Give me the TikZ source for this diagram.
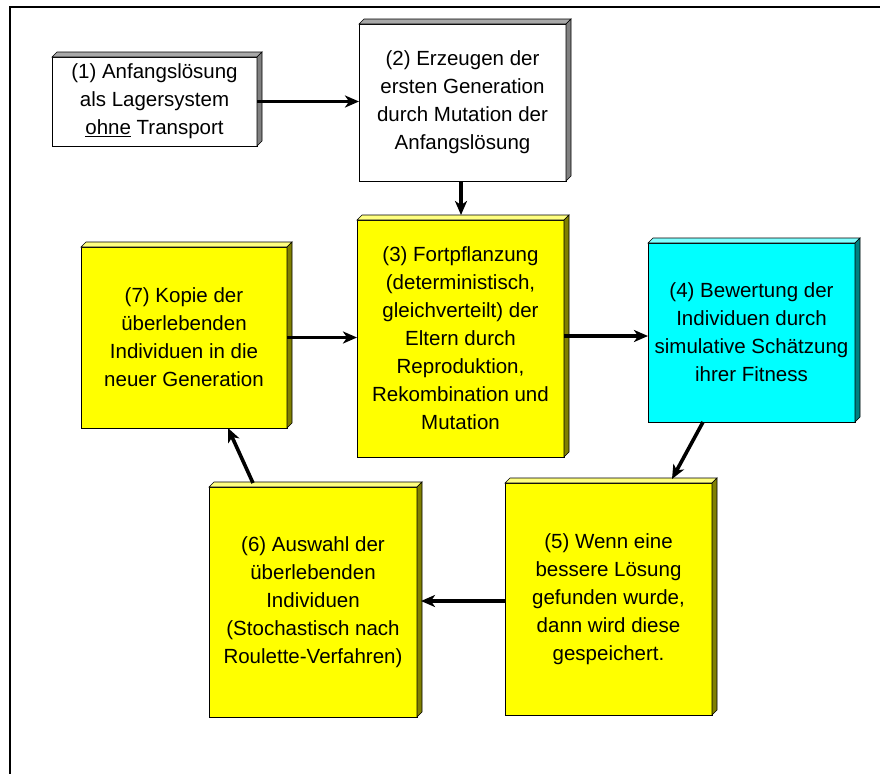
\documentclass[tikz,border=0pt]{standalone}
\usepackage{fontspec}
\setmainfont{Liberation Sans}
\usetikzlibrary{arrows.meta,calc}
\definecolor{ylw}{HTML}{FFFF00}
\definecolor{ylwtop}{HTML}{FFFF80}
\definecolor{ylwside}{HTML}{808000}
\definecolor{cyn}{HTML}{00FFFF}
\definecolor{cyntop}{HTML}{80FFFF}
\definecolor{cynside}{HTML}{008080}
\definecolor{gretop}{HTML}{A8A8A8}
\definecolor{greside}{HTML}{808080}
\tikzset{
  boxbase/.style={draw=black, line width=0.9pt, inner sep=0pt, outer sep=0pt, align=center,
    font=\fontsize{20.5}{28}\selectfont},
  whitebox/.style={boxbase, fill=white},
  yellowbox/.style={boxbase, fill=ylw},
  cyanbox/.style={boxbase, fill=cyn},
  slabline/.style={draw=black, line width=0.6pt},
  arr/.style={line width=3.6pt, -{Stealth[length=14pt,width=12pt,inset=4pt]}},
  framerule/.style={line width=2pt}
}
\newcommand{\myslab}[3]{%
  \fill[#2, slabline] (#1.north west) -- ++(5pt,5pt) -- ($(#1.north east)+(5pt,5pt)$) -- (#1.north east) -- cycle;
  \fill[#3, slabline] (#1.north east) -- ++(5pt,5pt) -- ($(#1.south east)+(5pt,5pt)$) -- (#1.south east) -- cycle;
}
\begin{document}
\begin{tikzpicture}[x=1pt,y=-1pt]
\useasboundingbox (0,0) rectangle (880,774);
% frame
\coordinate (fa) at (9,7);
\coordinate (fb) at (880,7);
\coordinate (fc) at (10,6);
\coordinate (fd) at (10,774);
\draw[framerule] (fa) -- (fb);
\draw[framerule] (fc) -- (fd);
% boxes
\node[whitebox, minimum width=205pt, minimum height=89pt] (b1) at (154.5,101.5)
  {(1) Anfangslösung\\als Lagersystem\\\underline{ohne} Transport};
\node[whitebox, minimum width=207pt, minimum height=157pt] (b2) at (462.5,102.5)
  {(2) Erzeugen der\\ersten Generation\\durch Mutation der\\Anfangslösung};
\node[yellowbox, minimum width=207pt, minimum height=237pt] (b3) at (460.5,338.5)
  {(3) Fortpflanzung\\(deterministisch,\\gleichverteilt) der\\Eltern durch\\Reproduktion,\\Rekombination und\\Mutation};
\node[cyanbox, minimum width=207pt, minimum height=179pt] (b4) at (751.5,332.5)
  {(4) Bewertung der\\Individuen durch\\simulative Schätzung\\ihrer Fitness};
\node[yellowbox, minimum width=207pt, minimum height=232pt] (b5) at (608.5,599)
  {(5) Wenn eine\\bessere Lösung\\gefunden wurde,\\dann wird diese\\gespeichert.};
\node[yellowbox, minimum width=208pt, minimum height=230pt] (b6) at (313,602)
  {(6) Auswahl der\\überlebenden\\Individuen\\(Stochastisch nach\\Roulette-Verfahren)};
\node[yellowbox, minimum width=206pt, minimum height=181pt] (b7) at (184,337.5)
  {(7) Kopie der\\überlebenden\\Individuen in die\\neuer Generation};
% slabs
\myslab{b1}{gretop}{greside}
\myslab{b2}{gretop}{greside}
\myslab{b3}{ylwtop}{ylwside}
\myslab{b4}{cyntop}{cynside}
\myslab{b5}{ylwtop}{ylwside}
\myslab{b6}{ylwtop}{ylwside}
\myslab{b7}{ylwtop}{ylwside}
% connectors
\draw[arr] (b1.east) -- (b1.east -| b2.west);
\draw[arr] ($(b2.south)+(-1.5pt,0)$) -- ($(b2.south |- b3.north)+(-1.5pt,5pt)$);
\draw[arr] (b7.east) -- (b7.east -| b3.west);
\draw[arr] ($(b3.east)+(0,2.5pt)$) -- ($(b4.west)+(0,-3.5pt)$);
\draw[arr] ($(b4.south)+(-48.5pt,0)$) -- ($(b5.north)+(63.5pt,4pt)$);
\draw[arr] ($(b5.west)+(0,-2pt)$) -- ($(b6.east |- b5.west)+(4pt,-2pt)$);
\draw[arr] ($(b6.north)+(-60pt,4pt)$) -- ($(b7.south)+(44pt,0)$);
\end{tikzpicture}
\end{document}
